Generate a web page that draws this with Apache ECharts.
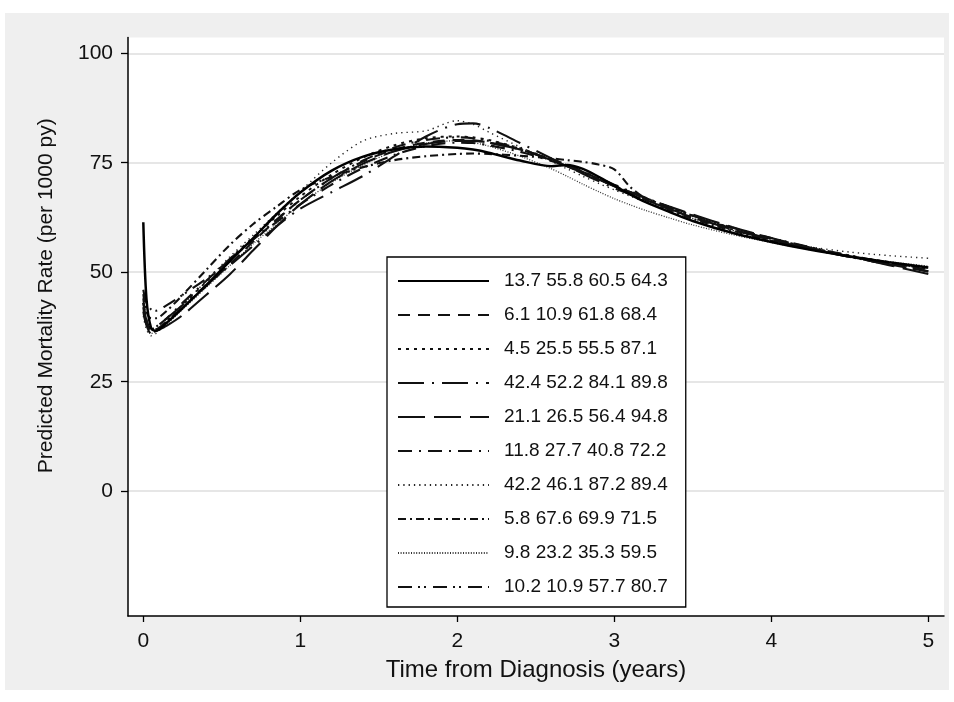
<!DOCTYPE html>
<html>
<head>
<meta charset="utf-8">
<script src="https://cdn.jsdelivr.net/npm/echarts@6/dist/echarts.min.js"></script>
<style>html,body{margin:0;padding:0;background:#fff;}#c{width:954px;height:702px;}</style>
</head>
<body>
<div id="c"></div>
<script>
// ---- data ----
const years = [0, 0.02, 0.05, 0.08, 0.15, 0.25, 0.4, 0.55, 0.7, 0.85, 1.0, 1.2, 1.4, 1.6, 1.8, 2.0, 2.1, 2.2, 2.4, 2.6, 2.7, 2.8, 2.9, 3.0, 3.1, 3.2, 3.35, 3.5, 3.75, 4.0, 4.25, 4.5, 4.75, 5.0];
const seriesNames = [
  "13.7 55.8 60.5 64.3", "6.1 10.9 61.8 68.4", "4.5 25.5 55.5 87.1", "42.4 52.2 84.1 89.8",
  "21.1 26.5 56.4 94.8", "11.8 27.7 40.8 72.2", "42.2 46.1 87.2 89.4", "5.8 67.6 69.9 71.5",
  "9.8 23.2 35.3 59.5", "10.2 10.9 57.7 80.7"
];
const s1 = [61.4, 44, 37.2, 36.6, 38.5, 41.8, 47.0, 52.5, 57.8, 63.3, 68.2, 73.2, 76.4, 78.1, 78.7, 78.4, 78.0, 77.3, 75.5, 74.2, 74.5, 73.6, 71.8, 69.8, 67.8, 66.0, 63.8, 61.7, 59.0, 56.9, 55.1, 53.6, 52.3, 51.1];
const s2 = [44, 39, 36.5, 36.8, 38.8, 42.0, 46.8, 51.8, 57.0, 62.0, 66.5, 71.5, 75.3, 78.0, 79.6, 80.2, 80.1, 79.6, 78.0, 75.8, 74.5, 73.0, 71.3, 69.6, 68.0, 66.5, 64.4, 62.5, 59.8, 57.4, 55.4, 53.6, 52.0, 50.6];
const s3 = [43, 39, 37, 37, 39, 42.5, 47.8, 53, 58, 62.8, 67.3, 72.3, 76.2, 79.0, 80.6, 81.0, 80.8, 80.2, 78.3, 75.8, 74.4, 72.9, 71.3, 69.8, 68.3, 66.9, 64.8, 62.9, 60.1, 57.7, 55.6, 53.8, 52.3, 51.0];
const s4 = [43, 39, 37, 37.5, 39.5, 42.5, 47, 51.5, 56, 60.5, 64.5, 68.3, 72.0, 76.5, 81.0, 83.8, 84.0, 83.0, 79.5, 76.0, 74.3, 72.5, 70.8, 69.2, 67.8, 66.4, 64.5, 62.6, 59.8, 57.4, 55.3, 53.5, 51.8, 50.2];
const s5 = [42, 38, 36, 36.5, 37.8, 40.2, 44.8, 49.5, 55.0, 60.5, 65.5, 70.8, 74.8, 77.6, 79.3, 80.0, 80.0, 79.6, 78.0, 75.6, 74.2, 72.7, 71.2, 69.7, 68.3, 66.9, 65.0, 63.2, 60.3, 57.8, 55.6, 53.6, 51.6, 49.6];
const s6 = [41, 38, 37, 37.5, 39.5, 43, 48, 53, 57.5, 61.5, 65.5, 70.0, 73.8, 76.8, 78.8, 79.6, 79.5, 79.0, 77.5, 75.4, 74.2, 72.9, 71.5, 70.0, 68.5, 67.0, 64.9, 62.9, 60.0, 57.5, 55.4, 53.5, 51.8, 50.2];
const s7 = [40, 37, 35.5, 36, 38.5, 42.5, 48, 53.5, 58.5, 63.5, 68.5, 75.0, 80.0, 81.7, 82.3, 84.6, 83.8, 82.0, 78.6, 75.3, 73.6, 71.9, 70.3, 68.8, 67.4, 66.0, 64.1, 62.3, 59.6, 57.5, 55.8, 54.6, 53.8, 53.2];
const s8 = [45, 41, 39.5, 39.5, 41.2, 44.8, 50.5, 56.2, 61.0, 65.0, 68.8, 71.8, 74.0, 75.6, 76.5, 77.0, 77.1, 77.0, 76.6, 76.0, 75.6, 75.2, 74.6, 73.5, 69.5, 66.8, 64.2, 62.2, 59.5, 57.2, 55.3, 53.6, 52.1, 50.8];
const s9 = [42, 38, 36, 36.4, 38.2, 41.5, 46.5, 51.5, 56.5, 61.0, 65.5, 70.5, 74.5, 77.6, 79.5, 80.0, 79.6, 78.8, 76.5, 73.6, 71.9, 70.1, 68.4, 66.8, 65.4, 64.1, 62.4, 60.8, 58.6, 56.8, 55.1, 53.6, 52.4, 51.4];
const s10 = [46, 43, 41.5, 41.2, 42.5, 44.8, 48.5, 52.8, 57.5, 62.0, 66.5, 71.5, 75.5, 78.5, 80.2, 80.8, 80.6, 80.0, 78.2, 75.6, 74.2, 72.7, 71.2, 69.7, 68.3, 66.9, 64.9, 63.0, 60.2, 57.8, 55.7, 53.8, 52.2, 50.8];
const xTicks = [0, 1, 2, 3, 4, 5];
const yTicks = [0, 25, 50, 75, 100];

const values = [s1, s2, s3, s4, s5, s6, s7, s8, s9, s10];
const styles = [
  {w: 2.5, dash: 'solid', c: '#000'},
  {w: 2.1, dash: [12, 8], c: '#111'},
  {w: 2, dash: [3, 5], c: '#111'},
  {w: 2.1, dash: [26, 8, 2, 8], c: '#111'},
  {w: 2.1, dash: [27, 9], c: '#111'},
  {w: 2.1, dash: [14, 7, 2, 7], c: '#111'},
  {w: 1.4, dash: [1.3, 4], c: '#222'},
  {w: 2.1, dash: [8, 4, 2, 4], c: '#111'},
  {w: 1.3, dash: [1, 1.6], c: '#333'},
  {w: 2.1, dash: [14, 6, 2, 4, 2, 7], c: '#111'}
];

const series = values.map((v, i) => ({
  name: seriesNames[i],
  type: 'line',
  data: years.map((x, j) => [x, v[j]]),
  showSymbol: false,
  symbol: 'none',
  smooth: 0.3,
  lineStyle: {width: styles[i].w, type: styles[i].dash, color: styles[i].c},
  itemStyle: {color: styles[i].c},
  z: 10 - i,
  emphasis: {disabled: true},
  silent: true
}));

const chart = echarts.init(document.getElementById('c'), null, {renderer: 'canvas'});
const font = 'Liberation Sans, Arial, Helvetica, sans-serif';
chart.setOption({
  animation: false,
  backgroundColor: '#ffffff',
  graphic: [{
    type: 'rect', z: -10, silent: true,
    shape: {x: 5, y: 13, width: 944, height: 677},
    style: {fill: '#efefef'}
  }],
  grid: {
    left: 128, right: 10, top: 37.5, bottom: 86,
    show: true, backgroundColor: '#ffffff', borderWidth: 0
  },
  legend: {
    orient: 'vertical',
    left: 387, top: 257,
    padding: [14, 18, 10, 10],
    itemWidth: 91, itemHeight: 20, itemGap: 14,
    backgroundColor: '#ffffff',
    borderColor: '#000', borderWidth: 1.3, borderRadius: 0,
    itemStyle: {color: 'rgba(0,0,0,0)', borderWidth: 0, opacity: 0},
    textStyle: {fontFamily: font, fontSize: 19, color: '#111', padding: [0, 0, 0, 10], lineHeight: 20},
    data: seriesNames,
    selectedMode: false
  },
  xAxis: {
    type: 'value', min: -0.0975, max: 5.1,
    name: 'Time from Diagnosis (years)', nameLocation: 'middle', nameGap: 42,
    nameTextStyle: {fontFamily: font, fontSize: 24, color: '#111'},
    axisLine: {show: true, onZero: false, lineStyle: {color: '#000', width: 1.5}},
    axisTick: {show: true, length: 6, lineStyle: {color: '#000', width: 1.3}, customValues: xTicks},
    axisLabel: {fontFamily: font, fontSize: 21, color: '#111', margin: 15, customValues: xTicks},
    splitLine: {show: false}
  },
  yAxis: {
    type: 'value', min: -28.5, max: 103.6,
    name: 'Predicted Mortality Rate (per 1000 py)', nameLocation: 'middle', nameGap: 71,
    nameTextStyle: {fontFamily: font, fontSize: 21, color: '#111', padding: [0, 0, 0, 62]},
    axisLine: {show: true, onZero: false, lineStyle: {color: '#000', width: 1.5}},
    axisTick: {show: true, length: 7, lineStyle: {color: '#000', width: 1.3}, customValues: yTicks},
    axisLabel: {fontFamily: font, fontSize: 21, color: '#111', margin: 15, customValues: yTicks},
    splitLine: {show: true, lineStyle: {color: '#e6e6e6', width: 2}}
  },
  series: series
});
</script>
</body>
</html>
